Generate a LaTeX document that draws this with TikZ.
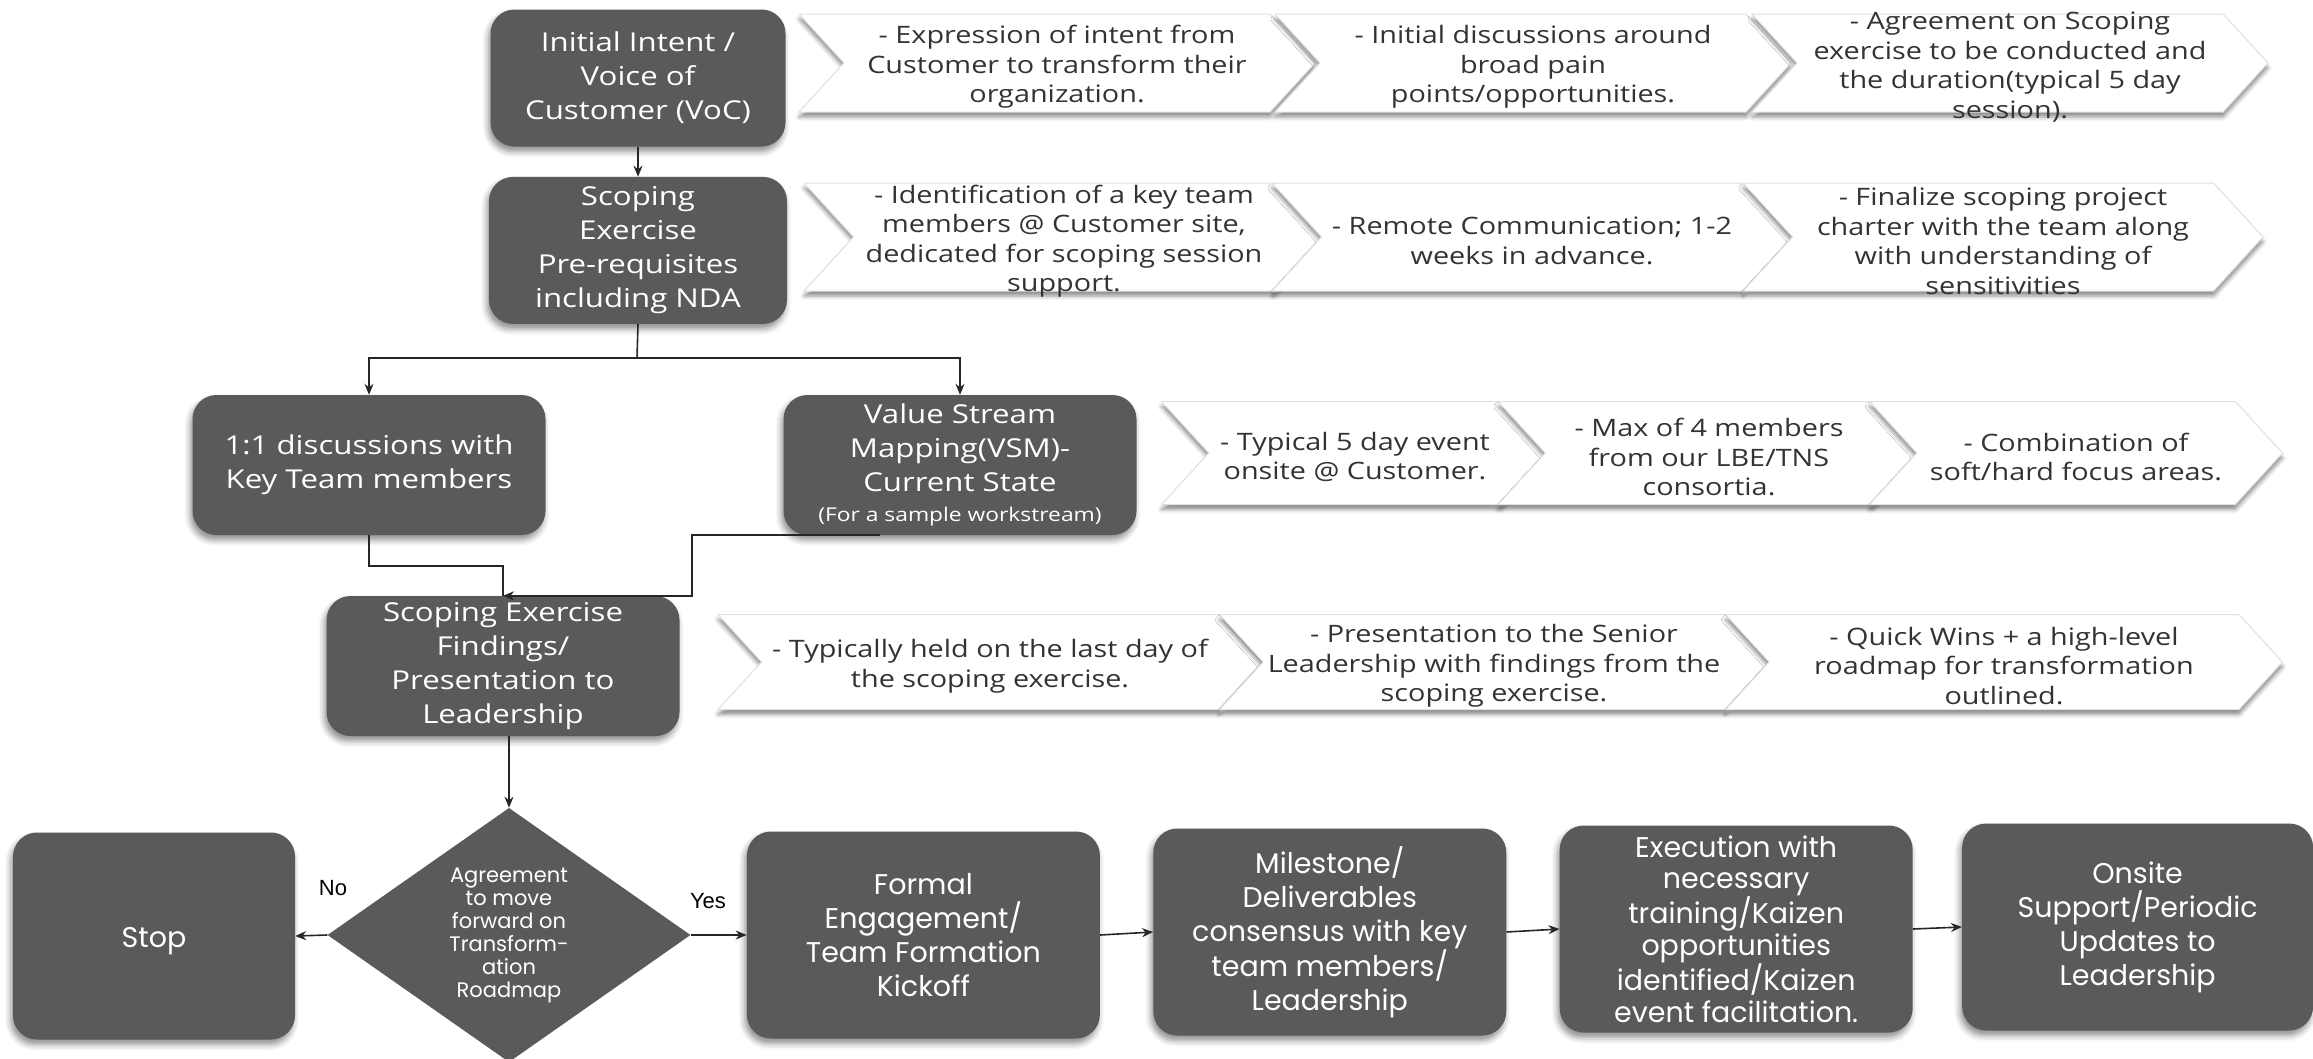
\documentclass[tikz,border=0pt]{standalone}
\usepackage{fontspec}
\setmainfont{Open Sans}[FakeStretch=1.2]
\newfontfamily\poppins{Poppins}
\newfontfamily\arial{Liberation Sans}
\usepackage{tikz}
\usetikzlibrary{shapes.geometric, shapes.symbols, positioning, shadows.blur}
\usetikzlibrary{arrows.meta}
\tikzset{>={Stealth[width=9pt,length=11pt]}}
\definecolor{boxgrey}{HTML}{5A5A5A}
\definecolor{notegrey}{HTML}{333333}

\begin{document}
\begin{tikzpicture}[x=1pt, y=-1pt, box/.style={rectangle, rounded corners=24pt, fill=boxgrey, text=white, align=center, inner sep=3pt, font=\fontsize{26}{34}\selectfont, execute at begin node={\rule{0pt}{29pt}}, blur shadow={shadow xshift=-2pt, shadow yshift=-5pt, shadow blur radius=6pt, shadow opacity=45}}, stepbox/.style={box, font=\poppins\fontsize{28.5}{34}\selectfont, execute at begin node={\rule{0pt}{31pt}}, minimum width=353pt, minimum height=207pt}, decision/.style={diamond, fill=boxgrey, text=white, align=center, inner sep=0pt, minimum width=363pt, minimum height=239pt, font=\poppins\fontsize{21}{23}\selectfont}, chev/.style={signal, signal from=west, signal to=east, signal pointer angle=95, fill=white, draw=black!12, line width=1pt, blur shadow={shadow xshift=0pt, shadow yshift=-5pt, shadow blur radius=4pt, shadow opacity=45}, label={[text=notegrey, align=center, yshift=-4pt, font=\fontsize{24}{29.5}\selectfont]center:{#1}}}, answer/.style={font=\arial\fontsize{22}{26}\selectfont}, wire/.style={line width=1.6pt, black!85}]
    \useasboundingbox (0,0) rectangle (2313,1058);

    %Chevrons
    \node[chev={- Expression of intent from\\Customer to transform their\\organization.}, minimum width=516pt, minimum height=98pt] (voc1) at (1057,63) {};
    \node[chev={- Initial discussions around\\broad pain\\points/opportunities.}, minimum width=516pt, minimum height=98pt] (voc2) at (1533,63) {};
    \node[chev={- Agreement on Scoping\\exercise to be conducted and\\the duration(typical 5 day\\session).}, minimum width=516pt, minimum height=98pt] (voc3) at (2010,63) {};

    \node[chev={- Identification of a key team\\members @ Customer site,\\dedicated for scoping session\\support.}, minimum width=520pt, minimum height=108pt] (pre1) at (1064,237) {};
    \node[chev={- Remote Communication; 1-2\\weeks in advance.}, minimum width=520pt, minimum height=108pt] (pre2) at (1532,237) {};
    \node[chev={- Finalize scoping project\\charter with the team along\\with understanding of\\sensitivities}, minimum width=520pt, minimum height=108pt] (pre3) at (2003,237) {};

    \node[chev={- Typical 5 day event\\onsite @ Customer.}, minimum width=387pt, minimum height=103pt] (vsm1) at (1355,453) {};
    \node[chev={- Max of 4 members\\from our LBE/TNS\\consortia.}, minimum width=422pt, minimum height=103pt] (vsm2) at (1709,453) {};
    \node[chev={- Combination of\\soft/hard focus areas.}, minimum width=413pt, minimum height=103pt] (vsm3) at (2076,453) {};

    \node[chev={- Typically held on the last day of\\the scoping exercise.}, minimum width=544pt, minimum height=95pt] (find1) at (990,662) {};
    \node[chev={- Presentation to the Senior\\Leadership with findings from the\\scoping exercise.}, minimum width=549pt, minimum height=95pt] (find2) at (1494,662) {};
    \node[chev={- Quick Wins + a high-level\\roadmap for transformation\\outlined.}, minimum width=557pt, minimum height=95pt] (find3) at (2004,662) {};

    %Nodes
    \node[box, minimum width=295pt, minimum height=137pt] (voc) at (638,78) {Initial Intent /\\Voice of\\Customer (VoC)};
    \node[box, minimum width=298pt, minimum height=147pt, below=30pt of voc] (prereq) {Scoping\\Exercise\\Pre-requisites\\including NDA};
    \node[box, minimum width=353pt, minimum height=140pt] (oneone) at (369,465) {1:1 discussions with\\Key Team members};
    \node[box, minimum width=353pt, minimum height=140pt] (vsm) at (960,465) {Value Stream\\Mapping(VSM)-\\Current State\\[-4pt]{\fontsize{19}{22}\selectfont (For a sample workstream)}};
    \node[box, minimum width=353pt, minimum height=140pt] (findings) at (503,666) {Scoping Exercise\\Findings/\\Presentation to\\Leadership};

    \node[decision] (decide) at (509,935) {Agreement\\to move\\forward on\\Transform-\\ation\\Roadmap};
    \node[stepbox, minimum width=282pt] (stop) at (154,936) {Stop};
    \node[stepbox, right=56pt of decide] (formal) {Formal\\Engagement/\\Team Formation\\Kickoff};
    \node[stepbox, right=53pt of formal, yshift=3pt] (milestone) {Milestone/\\Deliverables\\consensus with key\\team members/\\Leadership};
    \node[stepbox, right=53pt of milestone, yshift=3pt, font=\poppins\fontsize{28.5}{31.5}\selectfont] (execution) {Execution with\\necessary\\training/Kaizen\\opportunities\\identified/Kaizen\\event facilitation.};
    \node[stepbox, minimum width=351pt, right=49pt of execution, yshift=2pt] (onsite) {Onsite\\Support/Periodic\\Updates to\\Leadership};

    \node[answer] (no) at (333,888) {No};
    \node[answer] (yes) at (708,901) {Yes};

    %Lines
    \coordinate (split) at (637,358);
    \draw[wire, ->] (voc.south) -- (prereq.north);
    \draw[wire] (prereq.south) -- (split);
    \draw[wire, ->] (split) -| (oneone.north);
    \draw[wire, ->] (split) -| (vsm.north);
    \draw[wire] (oneone.south) -- ++(0,31) -| (findings.north);
    \draw[wire, ->] ([xshift=-80pt]vsm.south) -- ++(-188,0) |- (findings.north);
    \draw[wire, ->] (findings.south -| decide.north) -- (decide.north);
    \draw[wire, ->] (decide.west) -- (stop.east);
    \draw[wire, ->] (decide.east) -- (formal.west);
    \draw[wire, ->] (formal.east) -- (milestone.west);
    \draw[wire, ->] (milestone.east) -- (execution.west);
    \draw[wire, ->] (execution.east) -- (onsite.west);

\end{tikzpicture}
\end{document}
